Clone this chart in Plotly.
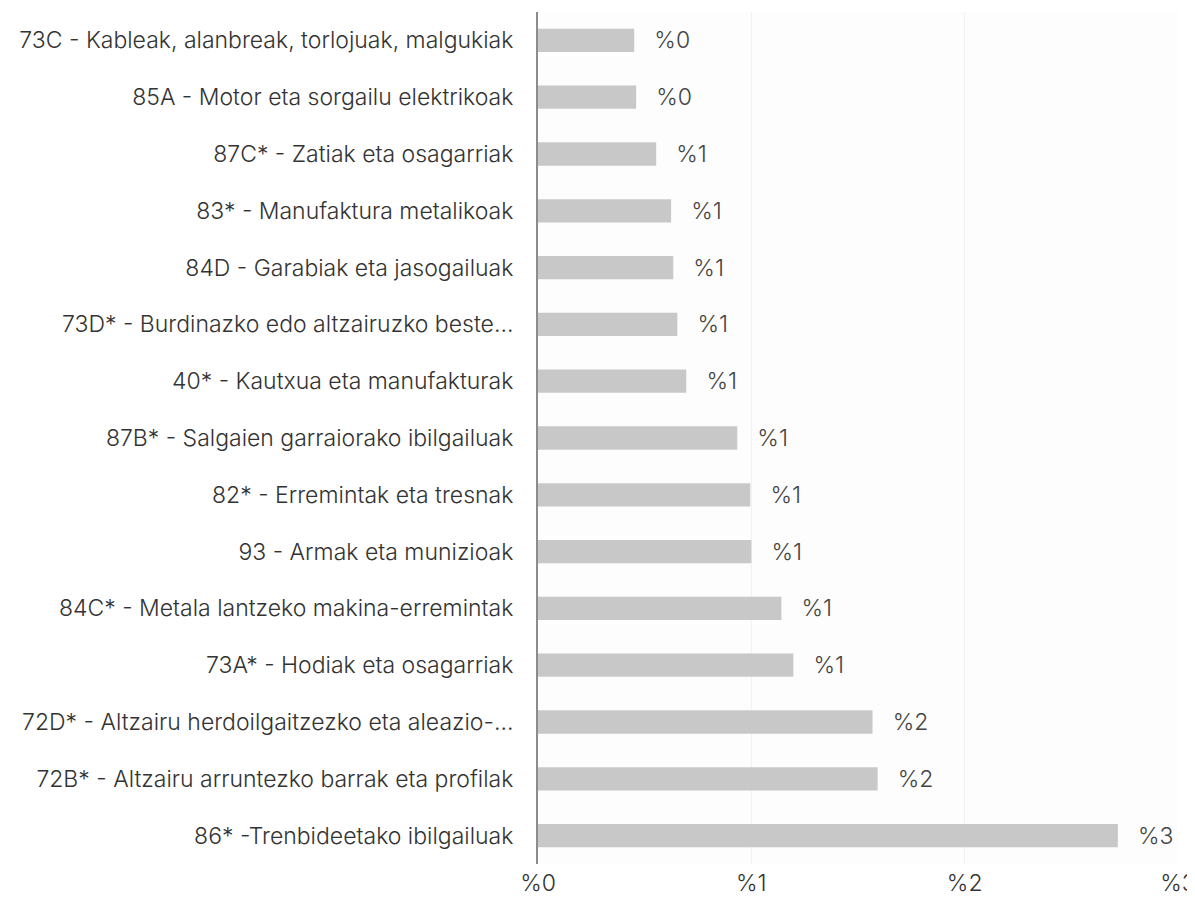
import plotly.graph_objects as go

categories = [
    "73C - Kableak, alanbreak, torlojuak, malgukiak",
    "85A - Motor eta sorgailu elektrikoak",
    "87C* - Zatiak eta osagarriak",
    "83* - Manufaktura metalikoak",
    "84D - Garabiak eta jasogailuak",
    "73D* - Burdinazko edo altzairuzko beste...",
    "40* - Kautxua eta manufakturak",
    "87B* - Salgaien garraiorako ibilgailuak",
    "82* - Erremintak eta tresnak",
    "93 - Armak eta munizioak",
    "84C* - Metala lantzeko makina-erremintak",
    "73A* - Hodiak eta osagarriak",
    "72D* - Altzairu herdoilgaitzezko eta aleazio-...",
    "72B* - Altzairu arruntezko barrak eta profilak",
    "86* -Trenbideetako ibilgailuak",
]
values = [0.451, 0.46, 0.554, 0.624, 0.634, 0.653, 0.695, 0.934, 0.995, 1.0,
          1.141, 1.197, 1.568, 1.592, 2.718]
tick_vals = [0, 1, 2, 3]
tick_text = ["%0", "%1", "%2", "%3"]

labels = ["  \u2009%" + str(round(v)) for v in values]

FONT = "Inter"
FS = 23

fig = go.Figure(go.Bar(
    y=categories, x=values, orientation="h",
    marker=dict(color="#c8c8c8", line=dict(width=0)),
    width=0.41,
    text=labels, textposition="outside", cliponaxis=False,
    constraintext="none",
    textfont=dict(family=FONT, size=FS, color="#444444", weight=300),
    hoverinfo="skip",
))

fig.update_layout(
    width=1187, height=889,
    margin=dict(l=530, r=17, t=4, b=33),
    paper_bgcolor="white", plot_bgcolor="#fdfdfd",
    font=dict(family=FONT, size=FS, color="#333333", weight=300),
    showlegend=False,
)
fig.update_yaxes(
    autorange="reversed", showline=True, linecolor="#8c8c8c", linewidth=2,
    showgrid=False, ticks="", ticklabelstandoff=18, automargin=False,
    tickfont=dict(family=FONT, size=FS, color="#333333", weight=300),
)
fig.update_xaxes(
    range=[0, 3], tickvals=tick_vals, ticktext=tick_text, automargin=False,
    ticklabeloverflow="allow",
    showgrid=True, gridcolor="#f2f2f2", gridwidth=1, zeroline=False,
    showline=False, ticks="", ticklabelstandoff=3,
    tickfont=dict(family=FONT, size=FS, color="#333333", weight=300),
)

fig.write_html("out.html")
